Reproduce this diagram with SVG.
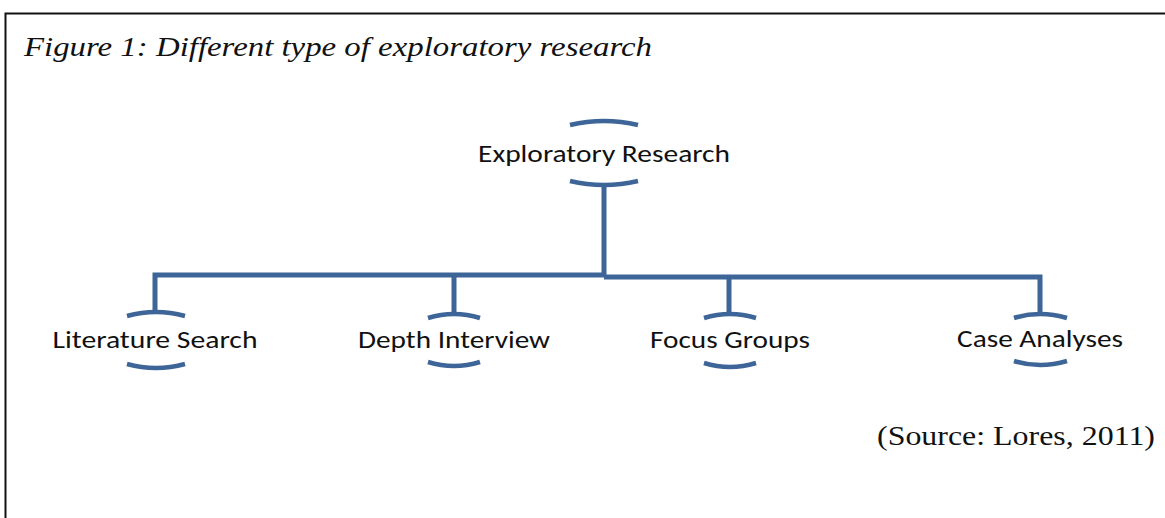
<svg xmlns="http://www.w3.org/2000/svg" width="1165" height="518" viewBox="0 0 1165 518">
<style>
.br{fill:none;stroke:#3D6597;stroke-width:4.5;stroke-linecap:butt}
.ln{fill:none;stroke:#3D6597;stroke-width:5;stroke-linejoin:miter}
.lbl{font-family:"Carlito","Open Sans","Liberation Sans",sans-serif;font-size:24px;fill:#111;text-anchor:middle}
</style>
<rect x="0" y="0" width="1165" height="518" fill="#fff"/>
<path d="M5.5,518 V13.5 H1165" fill="none" stroke="#111" stroke-width="2"/>
<text x="24" y="56" font-family="Liberation Serif,serif" font-style="italic" font-size="28" fill="#111" textLength="628" lengthAdjust="spacingAndGlyphs">Figure 1: Different type of exploratory research</text>
<g id="connectors">
<path class="ln" d="M604,185 V275 H155 V312"/>
<path class="ln" d="M454,275 V314"/>
<path class="ln" d="M604,277 H1040 V314"/>
<path class="ln" d="M729,277 V314"/>
</g>
<g id="n0">
<path class="br" d="M570,125 Q604,117 638,125"/>
<path class="br" d="M570,181 Q604,189 638,181"/>
<text class="lbl" x="604" y="162" textLength="252" lengthAdjust="spacingAndGlyphs">Exploratory Research</text>
</g>
<g id="n1">
<path class="br" d="M127,316 Q156,308 185,316"/>
<path class="br" d="M127,364 Q156,372 185,364"/>
<text class="lbl" x="155" y="348" textLength="205" lengthAdjust="spacingAndGlyphs">Literature Search</text>
</g>
<g id="n2">
<path class="br" d="M428,318 Q454,310 480,318"/>
<path class="br" d="M428,362 Q454,370 480,362"/>
<text class="lbl" x="454" y="348" textLength="192" lengthAdjust="spacingAndGlyphs">Depth Interview</text>
</g>
<g id="n3">
<path class="br" d="M704,318 Q730,310 756,318"/>
<path class="br" d="M704,363 Q730,371 756,363"/>
<text class="lbl" x="730" y="348" textLength="160" lengthAdjust="spacingAndGlyphs">Focus Groups</text>
</g>
<g id="n4">
<path class="br" d="M1014,318 Q1040,310 1067,318"/>
<path class="br" d="M1014,361 Q1040,369 1067,361"/>
<text class="lbl" x="1040" y="347" textLength="166" lengthAdjust="spacingAndGlyphs">Case Analyses</text>
</g>
<text x="1155" y="445" font-family="Liberation Serif,serif" font-size="28" fill="#111" text-anchor="end" textLength="278" lengthAdjust="spacingAndGlyphs">(Source: Lores, 2011)</text>
</svg>
